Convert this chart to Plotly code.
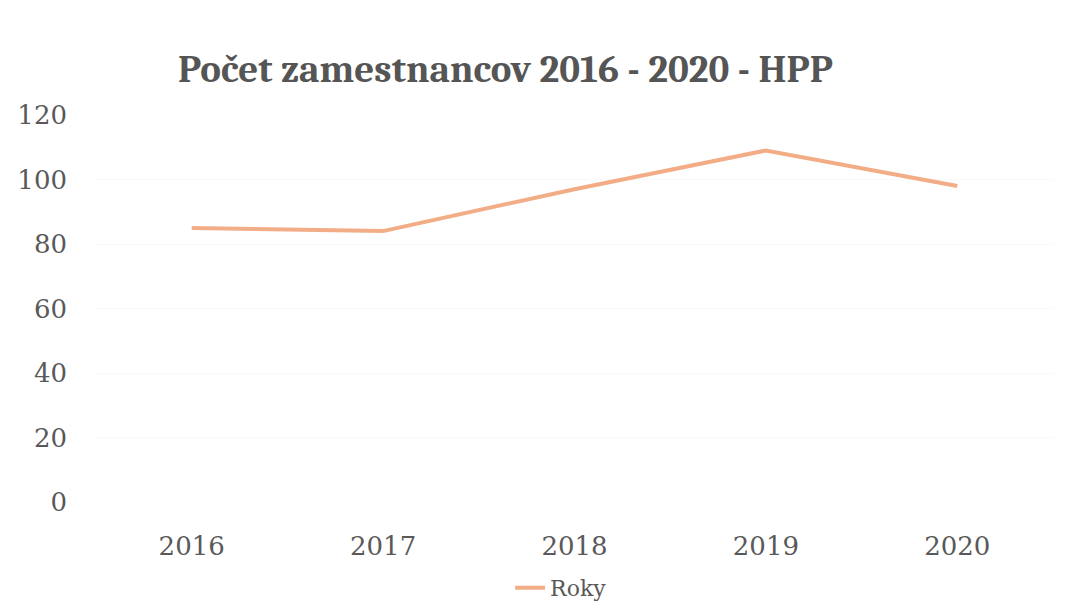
import plotly.graph_objects as go

years = ["2016", "2017", "2018", "2019", "2020"]
employees = [85, 84, 97, 109, 98]
y_ticks = [0, 20, 40, 60, 80, 100, 120]

title_font = "Cambria, Caladea, 'Liberation Serif', serif"
tick_font = "'DejaVu Serif', serif"

fig = go.Figure()
fig.add_trace(go.Scatter(
    x=years, y=employees, mode="lines", name="Roky",
    line=dict(color="#F3AD86", width=4),
))

fig.update_layout(
    width=1063, height=596,
    paper_bgcolor="white", plot_bgcolor="white",
    margin=dict(l=88, r=18, t=107, b=102),
    title=dict(
        text="<b>Počet zamestnancov 2016 - 2020 - HPP</b>",
        x=0.468, xanchor="center", y=0.899, yanchor="middle",
        font=dict(family=title_font, size=39, color="#555555"),
    ),
    font=dict(family=tick_font, color="#595959"),
    showlegend=True,
    legend=dict(
        orientation="h", x=0.486, xanchor="center",
        yref="container", y=0.027, yanchor="middle",
        font=dict(family=tick_font, size=22, color="#595959"),
    ),
    xaxis=dict(
        type="category", range=[-0.5, 4.5], automargin=False,
        showgrid=False, showline=False, ticks="",
        tickfont=dict(family=tick_font, size=26, color="#595959"),
        ticklabelstandoff=26,
    ),
    yaxis=dict(
        range=[0, 120], tickvals=y_ticks, automargin=False,
        showgrid=True, gridcolor="#F8F8F8", zeroline=False, showline=False,
        tickfont=dict(family=tick_font, size=26, color="#595959"),
        ticklabelstandoff=28,
    ),
)

fig.write_html("out.html")
